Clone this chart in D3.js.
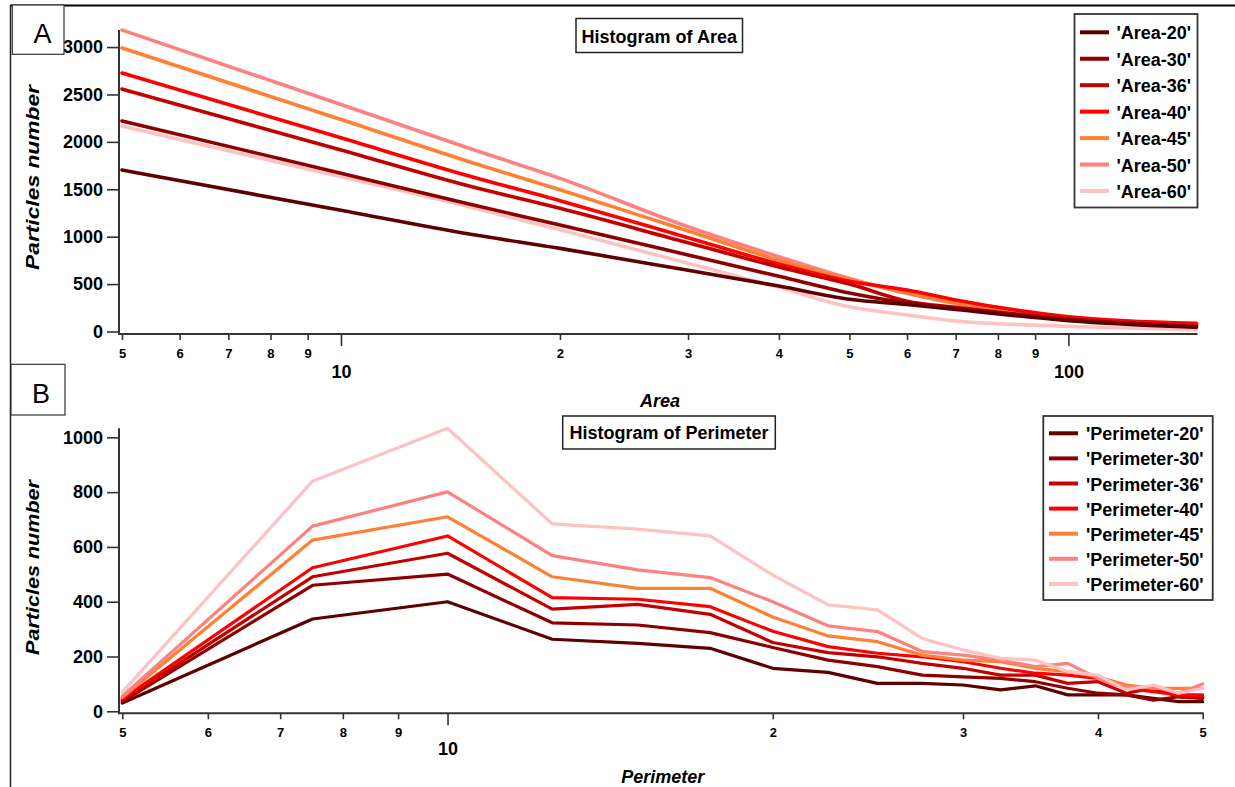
<!DOCTYPE html>
<html><head><meta charset="utf-8">
<script src="https://cdn.jsdelivr.net/npm/d3@7"></script>
<style>
html,body{margin:0;padding:0;background:#fff;}
svg text{font-family:"Liberation Sans",Arial,sans-serif;}
</style></head>
<body>
<svg id="c" width="1235" height="787"></svg>
<script>
// ---------- DATA ----------
const seriesNamesA = ["'Area-20'","'Area-30'","'Area-36'","'Area-40'","'Area-45'","'Area-50'","'Area-60'"];
const seriesNamesB = ["'Perimeter-20'","'Perimeter-30'","'Perimeter-36'","'Perimeter-40'","'Perimeter-45'","'Perimeter-50'","'Perimeter-60'"];
const colors = ["#5e0000","#8e0000","#c20000","#ff0000","#ff8033","#ff8080","#ffc2c2"];

const areaX = [5, 10, 15, 20, 30, 40, 50, 60, 70, 100, 150];
const area20 = [1703, 1278, 1028, 877, 645, 480, 340, 285, 232, 115, 45];
const area30 = [2220, 1669, 1344, 1123, 807, 582, 405, 300, 245, 125, 50];
const area36 = [2557, 1914, 1534, 1299, 936, 680, 500, 320, 255, 130, 55];
const area40 = [2726, 2043, 1640, 1379, 989, 712, 530, 438, 332, 156, 86];
const area45 = [2990, 2236, 1791, 1495, 1060, 751, 545, 410, 300, 145, 70];
const area50 = [3180, 2395, 1932, 1615, 1105, 789, 560, 400, 295, 140, 65];
const area60 = [2167, 1632, 1316, 1074, 719, 466, 260, 174, 110, 55, 20];

const perimX = [5, 7.5, 10, 12.5, 15, 17.5, 20, 22.5, 25, 27.5, 30, 32.5, 35, 37.5, 40, 42.5, 45, 47.5, 50];
const perim20 = [30, 337, 400, 263, 248, 230, 157, 142, 102, 102, 96, 78, 93, 60, 60, 60, 47, 35, 35];
const perim30 = [35, 460, 501, 323, 315, 287, 233, 187, 163, 132, 126, 120, 108, 84, 66, 60, 41, 53, 47];
const perim36 = [40, 491, 577, 373, 390, 354, 251, 214, 199, 175, 157, 132, 132, 102, 108, 66, 84, 53, 53];
const perim40 = [45, 524, 640, 415, 409, 382, 292, 236, 212, 199, 181, 157, 139, 132, 120, 84, 72, 60, 60];
const perim45 = [50, 625, 710, 491, 449, 449, 344, 275, 254, 205, 187, 181, 157, 145, 126, 96, 84, 84, 84];
const perim50 = [55, 676, 801, 568, 516, 488, 400, 312, 291, 218, 205, 187, 163, 175, 120, 84, 90, 66, 100];
const perim60 = [70, 840, 1033, 684, 665, 640, 497, 389, 370, 266, 224, 193, 187, 145, 132, 78, 96, 66, 84];

const yTicksA = [0, 500, 1000, 1500, 2000, 2500, 3000];
const yTicksB = [0, 200, 400, 600, 800, 1000];
const xMinorA = [5, 6, 7, 8, 9, 20, 30, 40, 50, 60, 70, 80, 90];
const xMajorA = [10, 100];
const xMinorB = [5, 6, 7, 8, 9, 20, 30, 40, 50];
const xMajorB = [10];

const areaSeries = [area20, area30, area36, area40, area45, area50, area60];
const perimSeries = [perim20, perim30, perim36, perim40, perim45, perim50, perim60];

// ---------- DRAW ----------
const svg = d3.select("#c");
const AX = "#333";

function panel(cfg){
  const g = svg.append("g");
  const x = d3.scaleLog().domain(cfg.xDomain).range([cfg.x0, cfg.x1]);
  const y = d3.scaleLinear().domain(cfg.yDomain).range([cfg.yZero, cfg.yTop]);

  const line = d3.line().x((d)=>x(d[0])).y((d)=>y(d[1])).curve(cfg.curve);
  const order = cfg.reverse ? d3.range(cfg.series.length).reverse() : d3.range(cfg.series.length);
  order.forEach(i=>{
    const pts = cfg.xs.map((xv,j)=>[xv, cfg.series[i][j]]);
    g.append("path").attr("d", line(pts)).attr("fill","none")
      .attr("stroke", colors[i]).attr("stroke-width", cfg.lw)
      .attr("stroke-linejoin","round").attr("stroke-linecap","round");
  });

  const ya = d3.axisLeft(y).tickValues(cfg.yTicks).tickFormat(d3.format("d")).tickSize(12).tickPadding(4).tickSizeOuter(0);
  const yg = g.append("g").attr("transform",`translate(${cfg.axX},0)`).call(ya);
  yg.select(".domain").remove();
  yg.selectAll("line").attr("stroke",AX).attr("stroke-width",1.6);
  yg.selectAll("text").attr("font-size",18).attr("font-weight","bold").attr("fill","#000")
    .attr("font-family","'Liberation Sans',Arial,sans-serif");

  const xaMin = d3.axisBottom(x).tickValues(cfg.xMinor).tickFormat(d=>String(d).charAt(0)).tickSize(6).tickSizeOuter(0);
  const xg1 = g.append("g").attr("transform",`translate(0,${cfg.axY})`).call(xaMin);
  xg1.select(".domain").remove();
  xg1.selectAll("line").attr("stroke",AX).attr("stroke-width",1.6);
  xg1.selectAll("text").attr("dy",null).attr("y",cfg.minorLab).attr("font-size",13).attr("font-weight","bold")
    .attr("fill","#000").attr("font-family","'Liberation Sans',Arial,sans-serif");
  const xaMaj = d3.axisBottom(x).tickValues(cfg.xMajor).tickFormat(d3.format("d")).tickSize(12).tickSizeOuter(0);
  const xg2 = g.append("g").attr("transform",`translate(0,${cfg.axY})`).call(xaMaj);
  xg2.select(".domain").remove();
  xg2.selectAll("line").attr("stroke",AX).attr("stroke-width",1.6);
  xg2.selectAll("text").attr("dy",null).attr("y",cfg.majorLab).attr("font-size",18).attr("font-weight","bold")
    .attr("fill","#000").attr("font-family","'Liberation Sans',Arial,sans-serif");

  g.append("line").attr("x1",cfg.axX).attr("x2",cfg.axX).attr("y1",cfg.yTop).attr("y2",cfg.axY+1)
    .attr("stroke",AX).attr("stroke-width",2);
  g.append("line").attr("x1",cfg.axX).attr("x2",cfg.x1+1).attr("y1",cfg.axY).attr("y2",cfg.axY)
    .attr("stroke",AX).attr("stroke-width",2);

  g.append("text").attr("x",cfg.xLabX).attr("y",cfg.xLabY).attr("text-anchor","middle")
    .attr("font-size",18).attr("font-weight","bold").attr("font-style","italic").text(cfg.xLabel);
  g.append("text").attr("transform",`translate(38.5,${cfg.yLabC}) rotate(-90)`).attr("text-anchor","middle")
    .attr("font-size",18).attr("font-weight","bold").attr("font-style","italic")
    .attr("textLength",cfg.yLabLen).attr("lengthAdjust","spacingAndGlyphs").text("Particles number");

  const t = cfg.title;
  g.append("rect").attr("x",t.x).attr("y",t.y).attr("width",t.w).attr("height",t.h)
    .attr("fill","#fff").attr("stroke","#222").attr("stroke-width",1.5);
  g.append("text").attr("x",t.x+t.w/2).attr("y",t.base).attr("text-anchor","middle")
    .attr("font-size",18).attr("font-weight","bold").text(t.text);

  const L = cfg.legend;
  g.append("rect").attr("x",L.x).attr("y",L.y).attr("width",L.w).attr("height",L.h)
    .attr("fill","#fff").attr("stroke","#333").attr("stroke-width",1.8);
  cfg.names.forEach((n,i)=>{
    const cy = L.row0 + i*L.step;
    g.append("line").attr("x1",L.lx0).attr("x2",L.lx1).attr("y1",cy).attr("y2",cy)
      .attr("stroke",colors[i]).attr("stroke-width",4);
    g.append("text").attr("x",L.tx).attr("y",cy+7).attr("font-size",18).attr("font-weight","bold").text(n);
  });
}

panel({
  xDomain:[5,150], x0:122, x1:1196.5,
  yDomain:[0,3180], yZero:331.5, yTop:30,
  axX:119, axY:334, curve:d3.curveMonotoneX, lw:3.6, reverse:true,
  xs:areaX, series:areaSeries, names:seriesNamesA,
  yTicks:yTicksA, xMinor:xMinorA, xMajor:xMajorA, minorLab:23.5, majorLab:44,
  xLabel:"Area", xLabX:660, xLabY:407, yLabC:177.5, yLabLen:185,
  title:{x:576,y:18.5,w:166.5,h:34,base:42.5,text:"Histogram of Area"},
  legend:{x:1074.5,y:14,w:123,h:193.5,row0:32.3,step:26.45,lx0:1080,lx1:1109,tx:1116.5}
});

panel({
  xDomain:[5,50], x0:122.3, x1:1202.7,
  yDomain:[0,1033], yZero:711.3, yTop:428.3,
  axX:119, axY:713.3, curve:d3.curveLinear, lw:3.2, reverse:false,
  xs:perimX, series:perimSeries, names:seriesNamesB,
  yTicks:yTicksB, xMinor:xMinorB, xMajor:xMajorB, minorLab:23.4, majorLab:41.7,
  xLabel:"Perimeter", xLabX:662.7, xLabY:783, yLabC:567.5, yLabLen:175,
  title:{x:562.7,y:416,w:212.6,h:33,base:439.3,text:"Histogram of Perimeter"},
  legend:{x:1043.3,y:416,w:169.4,h:184,row0:433.3,step:25.1,lx0:1049,lx1:1078,tx:1086}
});

svg.append("line").attr("x1",10).attr("x2",1235).attr("y1",5.5).attr("y2",5.5).attr("stroke","#000").attr("stroke-width",2);
svg.append("line").attr("x1",10.5).attr("x2",10.5).attr("y1",5).attr("y2",787).attr("stroke","#222").attr("stroke-width",1.5);

[{x:12.3,y:5,w:51.7,h:49.3,t:"A",tx:42.5,ty:43},{x:11,y:364.3,w:54,h:50.7,t:"B",tx:41,ty:403}].forEach(b=>{
  svg.append("rect").attr("x",b.x).attr("y",b.y).attr("width",b.w).attr("height",b.h)
    .attr("fill","#fff").attr("stroke","#333").attr("stroke-width",1.2);
  svg.append("text").attr("x",b.tx).attr("y",b.ty).attr("text-anchor","middle").attr("font-size",27).text(b.t);
});
</script>
</body></html>
